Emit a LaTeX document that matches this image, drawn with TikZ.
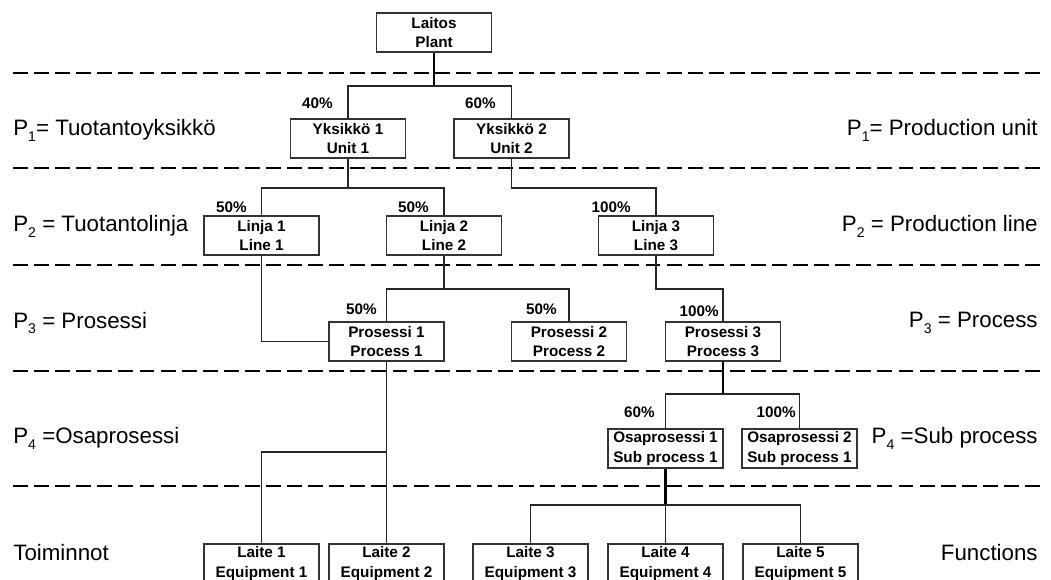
\documentclass[tikz,border=0pt]{standalone}
\usepackage{fontspec}
\setmainfont{Liberation Sans}
\newcommand\boxfont{\fontsize{8.7}{11.3}\selectfont\bfseries}
\newcommand\sidefont{\fontsize{12.7}{15}\selectfont}
\newcommand\Pn[1]{P\raisebox{-3.4pt}{\fontsize{8}{8}\selectfont #1}}
\tikzset{
  unitbox/.style={draw=black!80, line width=0.8pt, minimum width=2.3cm,
    minimum height=0.78cm, inner sep=0pt, align=center, font=\boxfont},
  share/.style={anchor=east, inner sep=0pt, font=\boxfont},
  levelname/.style={inner sep=0pt, font=\sidefont},
  link/.style={draw=black!85, line width=0.8pt},
  trunk/.style={draw=black, line width=1.6pt},
  divider/.style={line width=1.7pt, dash pattern=on 8.5pt off 3.5pt}
}
\begin{document}
\begin{tikzpicture}[x=0.02cm,y=-0.02cm]
  \useasboundingbox (0,0) rectangle (1051,580);
  \clip (0,0) rectangle (1051,580);
  \foreach \y in {73,168,265,371,486}
    \draw[divider] (13,\y) -- (1040,\y);

  \node[levelname,anchor=west] (lp1) at (13,130) {\Pn{1}= Tuotantoyksikkö};
  \node[levelname,anchor=west] (lp2) at (13,226) {\Pn{2} = Tuotantolinja};
  \node[levelname,anchor=west] (lp3) at (13,323) {\Pn{3} = Prosessi};
  \node[levelname,anchor=west] (lp4) at (13,438) {\Pn{4} =Osaprosessi};
  \node[levelname,anchor=west] (lp5) at (13,553) {Toiminnot};
  \node[levelname,anchor=east] (rp1) at (1038,130) {\Pn{1}= Production unit};
  \node[levelname,anchor=east] (rp2) at (1038,226) {\Pn{2} = Production line};
  \node[levelname,anchor=east] (rp3) at (1038,323) {\Pn{3} = Process};
  \node[levelname,anchor=east] (rp4) at (1038,438) {\Pn{4} =Sub process};
  \node[levelname,anchor=east] (rp5) at (1038,553) {Functions};

  \node[unitbox] (plant) at (434,32.5) {Laitos\\Plant};
  \node[unitbox] (u1) at (348,138.5) {Yksikkö 1\\Unit 1};
  \node[unitbox] (u2) at (511.5,138.5) {Yksikkö 2\\Unit 2};
  \node[unitbox] (l1) at (261.5,235.5) {Linja 1\\Line 1};
  \node[unitbox] (l2) at (444,235.5) {Linja 2\\Line 2};
  \node[unitbox] (l3) at (656,235.5) {Linja 3\\Line 3};
  \node[unitbox] (p1) at (386.5,341.5) {Prosessi 1\\Process 1};
  \node[unitbox] (p2) at (569,341.5) {Prosessi 2\\Process 2};
  \node[unitbox] (p3) at (723,341.5) {Prosessi 3\\Process 3};
  \node[unitbox] (o1) at (665.5,448.5) {Osaprosessi 1\\Sub process 1};
  \node[unitbox] (o2) at (799.5,448.5) {Osaprosessi 2\\Sub process 1};
  \node[unitbox] (e1) at (261.5,563.5) {Laite 1\\Equipment 1};
  \node[unitbox] (e2) at (386.5,563.5) {Laite 2\\Equipment 2};
  \node[unitbox] (e3) at (530.5,563.5) {Laite 3\\Equipment 3};
  \node[unitbox] (e4) at (665.5,563.5) {Laite 4\\Equipment 4};
  \node[unitbox] (e5) at (800.5,563.5) {Laite 5\\Equipment 5};

  \node[share] (s1) at (333,103) {40\%};
  \node[share] (s2) at (496,103) {60\%};
  \node[share] (s3) at (247,207) {50\%};
  \node[share] (s4) at (429,207) {50\%};
  \node[share] (s5) at (631,207) {100\%};
  \node[share] (s6) at (377,309) {50\%};
  \node[share] (s7) at (557,309) {50\%};
  \node[share] (s8) at (719,311) {100\%};
  \node[share] (s9) at (655,412) {60\%};
  \node[share] (s10) at (796,412) {100\%};

  \coordinate (j0) at (434,86);
  \coordinate (j1) at (348,188);
  \coordinate (j2) at (656,188);
  \coordinate (j3) at (444,289);
  \coordinate (j4) at (723,289);
  \coordinate (j5) at (723,394);
  \coordinate (j6) at (386.5,452);
  \coordinate (j7) at (665.5,505);

  \draw[trunk] (plant.south) -- (j0);
  \draw[link] (u1.north) |- (j0) -| (u2.north);
  \draw[link] (u1.south) -- (j1);
  \draw[link] (l1.north) |- (j1) -| (l2.north);
  \draw[link] (u2.south) |- (j2) -- (l3.north);
  \draw[link] (l1.south) |- (p1.west);
  \draw[link] (l2.south) -- (j3);
  \draw[link] (p1.north) |- (j3) -| (p2.north);
  \draw[link] (l3.south) |- (j4) -- (p3.north);
  \draw[trunk] (p3.south) -- (j5);
  \draw[link] (o1.north) |- (j5) -| (o2.north);
  \draw[link] (p1.south) -- (e2.north);
  \draw[link] (e1.north) |- (j6);
  \draw[trunk] (o1.south) -- (j7);
  \draw[link] (e3.north) |- (j7) -| (e5.north);
  \draw[link] (j7) -- (e4.north);
\end{tikzpicture}
\end{document}
